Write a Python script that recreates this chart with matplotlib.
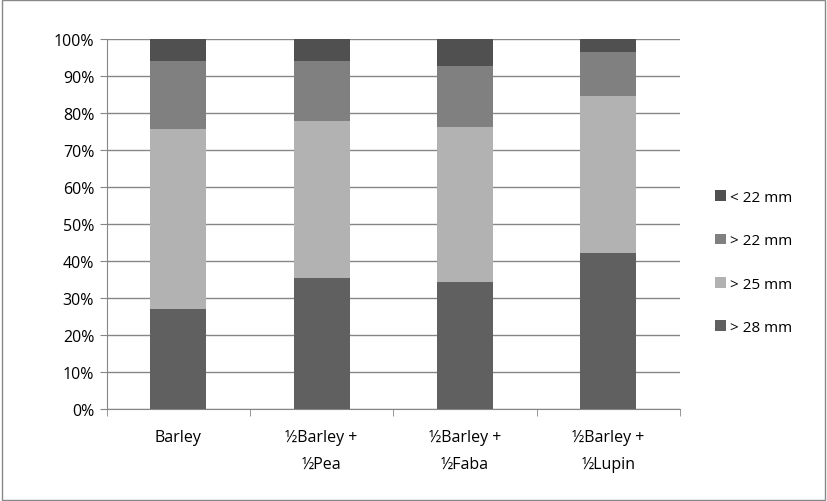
import numpy as np
import matplotlib.pyplot as plt
from matplotlib.ticker import FuncFormatter

categories = ["Barley", "\u00bdBarley +\n\u00bdPea", "\u00bdBarley +\n\u00bdFaba", "\u00bdBarley +\n\u00bdLupin"]
gt28 = [27.0, 35.4, 34.3, 42.2]
gt25 = [48.7, 42.6, 41.9, 42.4]
gt22 = [18.3, 16.0, 16.5, 11.9]
lt22 = [6.0, 6.0, 7.3, 3.5]

series = [("> 28 mm", gt28, "#606060"),
          ("> 25 mm", gt25, "#b2b2b2"),
          ("> 22 mm", gt22, "#808080"),
          ("< 22 mm", lt22, "#505050")]

plt.rcParams["font.family"] = ["Open Sans", "DejaVu Sans"]

fig = plt.figure(figsize=(8.27, 5.02), dpi=100)
ax = fig.add_axes([0.129, 0.183, 0.693, 0.737])
fig.patches.append(plt.Rectangle((0.002, 0.002), 0.996, 0.996, transform=fig.transFigure,
                                 fill=False, edgecolor="#888888", linewidth=1.0))

x = np.arange(len(categories))
bottom = np.zeros(len(categories))
handles = []
for label, vals, color in series:
    b = ax.bar(x, vals, width=0.39, bottom=bottom, color=color, label=label,
               edgecolor="none", zorder=3)
    handles.append(b)
    bottom += np.array(vals)

ax.set_xlim(-0.5, len(categories) - 0.5)
ax.set_ylim(0, 100)
ax.set_yticks(np.arange(0, 101, 10))
ax.yaxis.set_major_formatter(FuncFormatter(lambda v, p: f"{int(v)}%"))
ax.set_xticks(x)
ax.set_xticklabels(categories, fontsize=11.5, linespacing=1.95, va="top")
ax.set_xticks(np.arange(-0.5, len(categories), 1), minor=True)
ax.tick_params(axis="x", which="major", length=0, pad=14)
ax.tick_params(axis="x", which="minor", length=5, color="#868686", direction="out")
ax.tick_params(axis="y", length=5, color="#868686", labelsize=11.5, pad=4)
ax.grid(axis="y", color="#868686", linewidth=1.0, zorder=0)
for s in ["top", "right"]:
    ax.spines[s].set_visible(False)
for s in ["left", "bottom"]:
    ax.spines[s].set_color("#868686")

leg = fig.legend(handles[::-1], [h.get_label() for h in handles[::-1]],
                 loc="center left", bbox_to_anchor=(0.848, 0.475), frameon=False,
                 fontsize=11, handlelength=0.7, handleheight=0.7,
                 labelspacing=1.85, handletextpad=0.3)

fig.savefig("out.png", dpi=100)
